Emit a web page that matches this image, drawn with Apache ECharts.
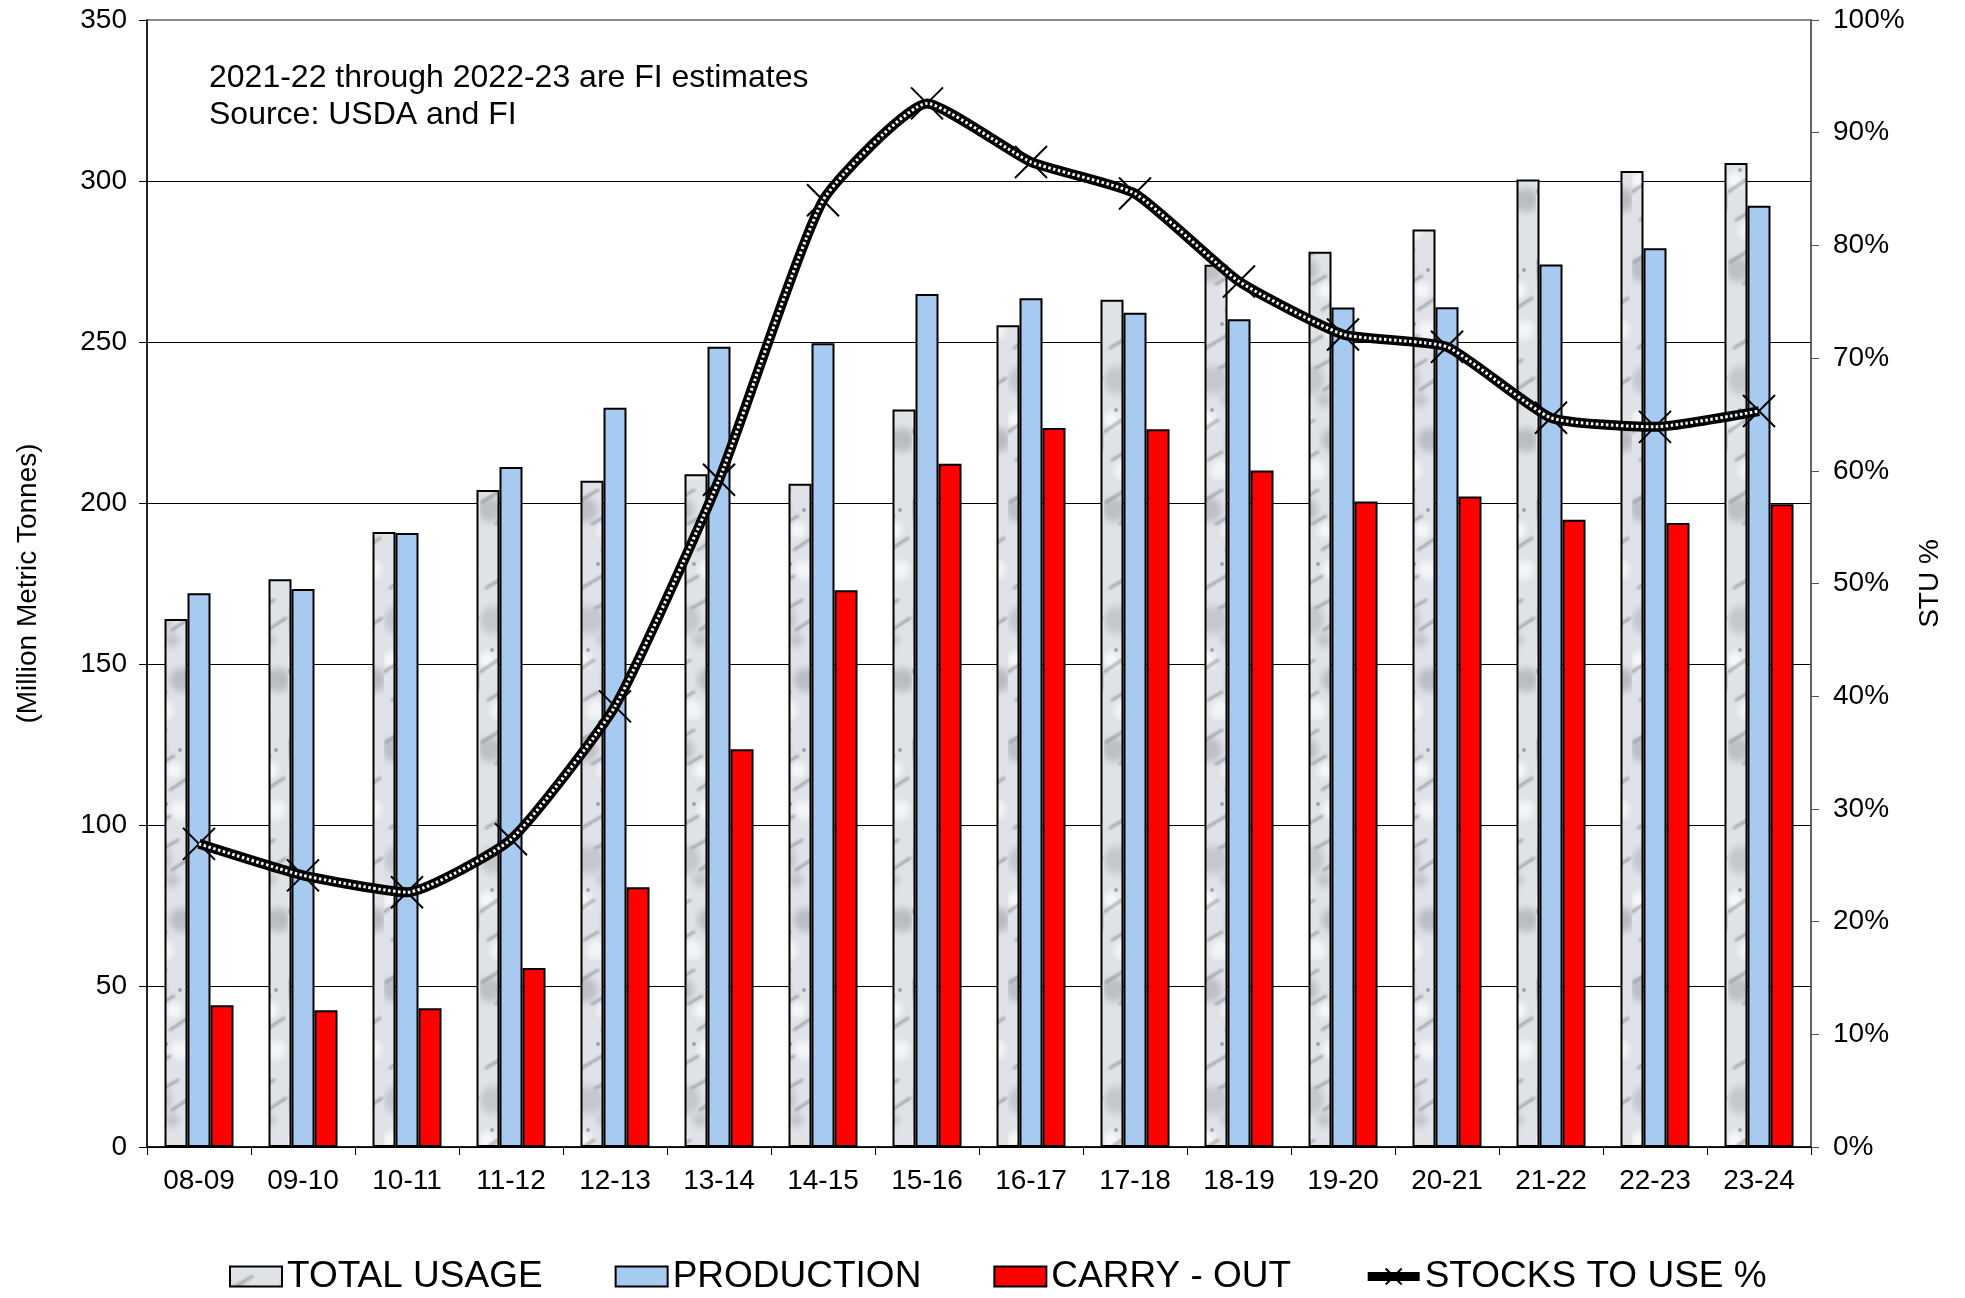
<!DOCTYPE html>
<html>
<head>
<meta charset="utf-8">
<title>Stocks to Use</title>
<script src="https://cdn.jsdelivr.net/npm/echarts@6/dist/echarts.min.js"></script>
<style>
  html, body { margin: 0; padding: 0; background: #fff; }
  #chart { width: 1965px; height: 1298px; }
</style>
</head>
<body>
<div id="chart"></div>
<script>
// Marketing years on the category axis
const categories = ['08-09', '09-10', '10-11', '11-12', '12-13', '13-14', '14-15', '15-16',
                    '16-17', '17-18', '18-19', '19-20', '20-21', '21-22', '22-23', '23-24'];

// Million metric tonnes
const totalUsage = [164.0, 176.3, 191.0, 204.0, 206.9, 208.9, 206.0, 229.0,
                    255.2, 263.1, 274.0, 278.0, 284.9, 300.5, 303.1, 305.6];
const production = [172.0, 173.3, 190.7, 211.2, 229.6, 248.5, 249.6, 264.9,
                    263.6, 259.1, 257.1, 260.7, 260.8, 274.1, 279.1, 292.3];
const carryOut   = [44.0, 42.5, 43.1, 55.6, 80.7, 123.5, 172.9, 212.2,
                    223.3, 222.9, 210.1, 200.5, 202.0, 194.8, 193.8, 199.6];

// Stocks-to-use ratio, percent
const stocksToUse = [26.9, 24.1, 22.6, 27.3, 39.1, 59.2, 84.0, 92.6,
                     87.4, 84.6, 76.8, 72.1, 71.0, 64.7, 63.9, 65.3];

const legendNames = ['TOTAL USAGE', 'PRODUCTION', 'CARRY - OUT', 'STOCKS TO USE %'];
const noteLines = ['2021-22 through 2022-23 are FI estimates', 'Source: USDA and FI'];

const FONT = '"Liberation Sans", Arial, sans-serif';

// Light grey marble fill for the usage bars
function marbleTexture() {
  const c = document.createElement('canvas');
  c.width = 48; c.height = 240;
  const g = c.getContext('2d');
  g.fillStyle = '#dfe2e6';
  g.fillRect(0, 0, 48, 240);
  g.filter = 'blur(3px)';
  const blobs = [[10, 30, 12, 'rgba(160,164,170,0.55)'], [36, 90, 10, 'rgba(245,247,250,0.9)'],
                 [14, 140, 14, 'rgba(170,174,180,0.5)'], [38, 200, 12, 'rgba(150,154,160,0.5)'],
                 [20, 230, 10, 'rgba(245,247,250,0.9)'], [30, 50, 8, 'rgba(248,249,251,0.9)'],
                 [8, 180, 9, 'rgba(248,249,251,0.9)'], [28, 160, 7, 'rgba(165,168,174,0.5)']];
  blobs.forEach(b => { g.fillStyle = b[3]; g.beginPath(); g.arc(b[0], b[1], b[2], 0, Math.PI * 2); g.fill(); });
  g.filter = 'blur(1px)';
  g.lineCap = 'round';
  const veins = [[2, 22, 22, 10], [26, 70, 44, 58], [6, 108, 26, 96], [28, 150, 46, 138],
                 [0, 192, 18, 180], [16, 44, 30, 36], [20, 128, 34, 120], [8, 220, 22, 212]];
  g.strokeStyle = 'rgba(120,125,132,0.55)';
  g.lineWidth = 3;
  veins.forEach(v => { g.beginPath(); g.moveTo(v[0], v[1]); g.lineTo(v[2], v[3]); g.stroke(); });
  g.filter = 'none';
  g.fillStyle = 'rgba(110,114,120,0.55)';
  [[22, 84], [12, 170], [36, 30]].forEach(p => { g.beginPath(); g.arc(p[0], p[1], 2, 0, Math.PI * 2); g.fill(); });
  return c;
}

const chart = echarts.init(document.getElementById('chart'), null, { renderer: 'canvas' });
const marble = { image: marbleTexture(), repeat: 'repeat' };

const barBase = {
  type: 'bar',
  barWidth: 23,
  barGap: '0%',
  emphasis: { disabled: true },
};

chart.setOption({
  animation: false,
  textStyle: { fontFamily: FONT, color: '#000' },
  grid: {
    left: 147, right: 154, top: 20, bottom: 151,
    show: true, borderColor: '#8a8a8a', borderWidth: 2, backgroundColor: 'transparent'
  },
  legend: {
    data: [
      { name: legendNames[0], icon: 'rect' },
      { name: legendNames[1], icon: 'rect' },
      { name: legendNames[2], icon: 'rect' },
      { name: legendNames[3], lineStyle: { width: 9 } }
    ],
    top: 1253,
    left: 224,
    itemWidth: 52,
    itemHeight: 20,
    itemGap: 72,
    textStyle: { fontSize: 37, fontFamily: FONT, color: '#000', padding: [0, 0, 0, 0] },
    selectedMode: false
  },
  graphic: [{
    type: 'text',
    left: 209,
    top: 60,
    style: {
      text: noteLines.join('\n'),
      font: '32px ' + FONT,
      fill: '#000',
      lineHeight: 37
    }
  }],
  xAxis: {
    type: 'category',
    data: categories,
    axisLine: { lineStyle: { color: '#000', width: 1.5 } },
    axisTick: { show: true, length: 8, lineStyle: { color: '#000' } },
    axisLabel: { fontSize: 28, color: '#000', margin: 20, fontFamily: FONT }
  },
  yAxis: [{
    type: 'value',
    min: 0, max: 350, interval: 50,
    name: '(Million Metric Tonnes)',
    nameLocation: 'middle',
    nameRotate: 90,
    nameGap: 105,
    nameTextStyle: { fontSize: 28, color: '#000', fontFamily: FONT },
    axisLine: { show: true, lineStyle: { color: '#000', width: 1.5 } },
    axisTick: { show: true, length: 8, lineStyle: { color: '#000' } },
    axisLabel: { fontSize: 28, color: '#000', margin: 20, fontFamily: FONT },
    splitLine: { show: true, showMaxLine: false, lineStyle: { color: '#000', width: 1 } }
  }, {
    type: 'value',
    min: 0, max: 100, interval: 10,
    position: 'right',
    name: 'STU %',
    nameLocation: 'middle',
    nameRotate: 90,
    nameGap: 105,
    nameTextStyle: { fontSize: 28, color: '#000', fontFamily: FONT },
    axisLine: { show: true, lineStyle: { color: '#555', width: 1.5 } },
    axisTick: { show: true, length: 8, lineStyle: { color: '#555' } },
    axisLabel: { fontSize: 28, color: '#000', margin: 22, formatter: '{value}%', fontFamily: FONT },
    splitLine: { show: false }
  }],
  series: [
    Object.assign({}, barBase, {
      name: 'TOTAL USAGE',
      data: totalUsage,
      itemStyle: { color: marble, borderColor: '#000', borderWidth: 2 }
    }),
    Object.assign({}, barBase, {
      name: 'PRODUCTION',
      data: production,
      itemStyle: { color: '#a6caf0', borderColor: '#000', borderWidth: 2 }
    }),
    Object.assign({}, barBase, {
      name: 'CARRY - OUT',
      data: carryOut,
      itemStyle: { color: '#ff0000', borderColor: '#000', borderWidth: 2 }
    }),
    {
      name: 'STOCKS TO USE %',
      type: 'line',
      yAxisIndex: 1,
      data: stocksToUse,
      smooth: 0.16,
      symbol: 'path://M0,0L10,10M10,0L0,10',
      symbolSize: 32,
      lineStyle: { color: '#000', width: 10 },
      itemStyle: { color: 'transparent', borderColor: '#000', borderWidth: 2 },
      emphasis: { disabled: true },
      z: 5
    },
    {
      name: 'stu-core',
      type: 'line',
      yAxisIndex: 1,
      data: stocksToUse,
      smooth: 0.16,
      symbol: 'none',
      silent: true,
      lineStyle: { color: '#fff', width: 3, type: [2.5, 2.5] },
      emphasis: { disabled: true },
      z: 6
    }
  ]
});
</script>
</body>
</html>
